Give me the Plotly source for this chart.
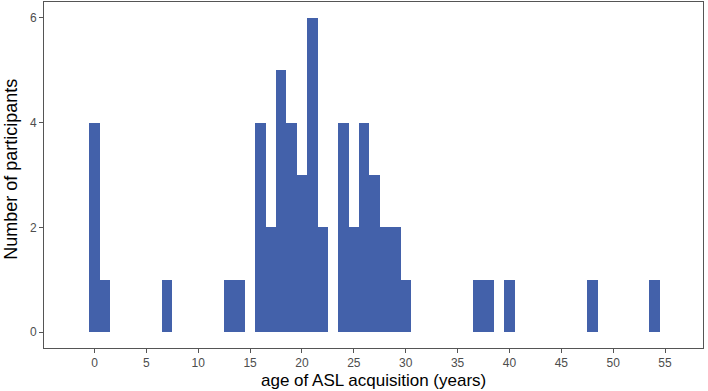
import plotly.graph_objects as go

ages = [0, 1, 7, 13, 14, 16, 17, 18, 19, 20, 21, 22, 24, 25, 26, 27, 28, 29, 30, 37, 38, 40, 48, 54]
counts = [4, 1, 1, 1, 1, 4, 2, 5, 4, 3, 6, 2, 4, 2, 4, 3, 2, 2, 1, 1, 1, 1, 1, 1]
x_ticks = [0, 5, 10, 15, 20, 25, 30, 35, 40, 45, 50, 55]
y_ticks = [0, 2, 4, 6]

fig = go.Figure(go.Bar(
    x=ages, y=counts, width=1,
    marker=dict(color="#4361AA", line=dict(width=0)),
))

axis_common = dict(
    showgrid=False, zeroline=False, automargin=False,
    showline=True, linecolor="#555555", linewidth=1, mirror=True,
    ticks="outside", ticklen=4, tickcolor="#555555", tickwidth=1,
    tickfont=dict(family="Liberation Sans, Arial", size=12, color="#4D4D4D"),
)

fig.update_layout(
    width=708, height=391,
    margin=dict(l=44, r=5, t=2, b=43),
    paper_bgcolor="white", plot_bgcolor="white",
    showlegend=False, bargap=0,
    xaxis=dict(range=[-4.87, 58.66], tickvals=x_ticks, **axis_common),
    yaxis=dict(range=[-0.3, 6.3], tickvals=y_ticks, **axis_common),
    annotations=[
        dict(text="age of ASL acquisition (years)", xref="paper", yref="paper",
             x=0.5, y=-0.095, xanchor="center", yanchor="middle", showarrow=False,
             font=dict(family="Liberation Sans, Arial", size=17, color="black")),
        dict(text="Number of participants", xref="paper", yref="paper",
             x=-0.05, y=0.515, xanchor="center", yanchor="middle", showarrow=False,
             textangle=-90,
             font=dict(family="Liberation Sans, Arial", size=18, color="black")),
    ],
)

fig.write_html("out.html", config={"displayModeBar": False},
               post_script="document.body.style.margin='0';document.body.style.overflow='hidden';")
